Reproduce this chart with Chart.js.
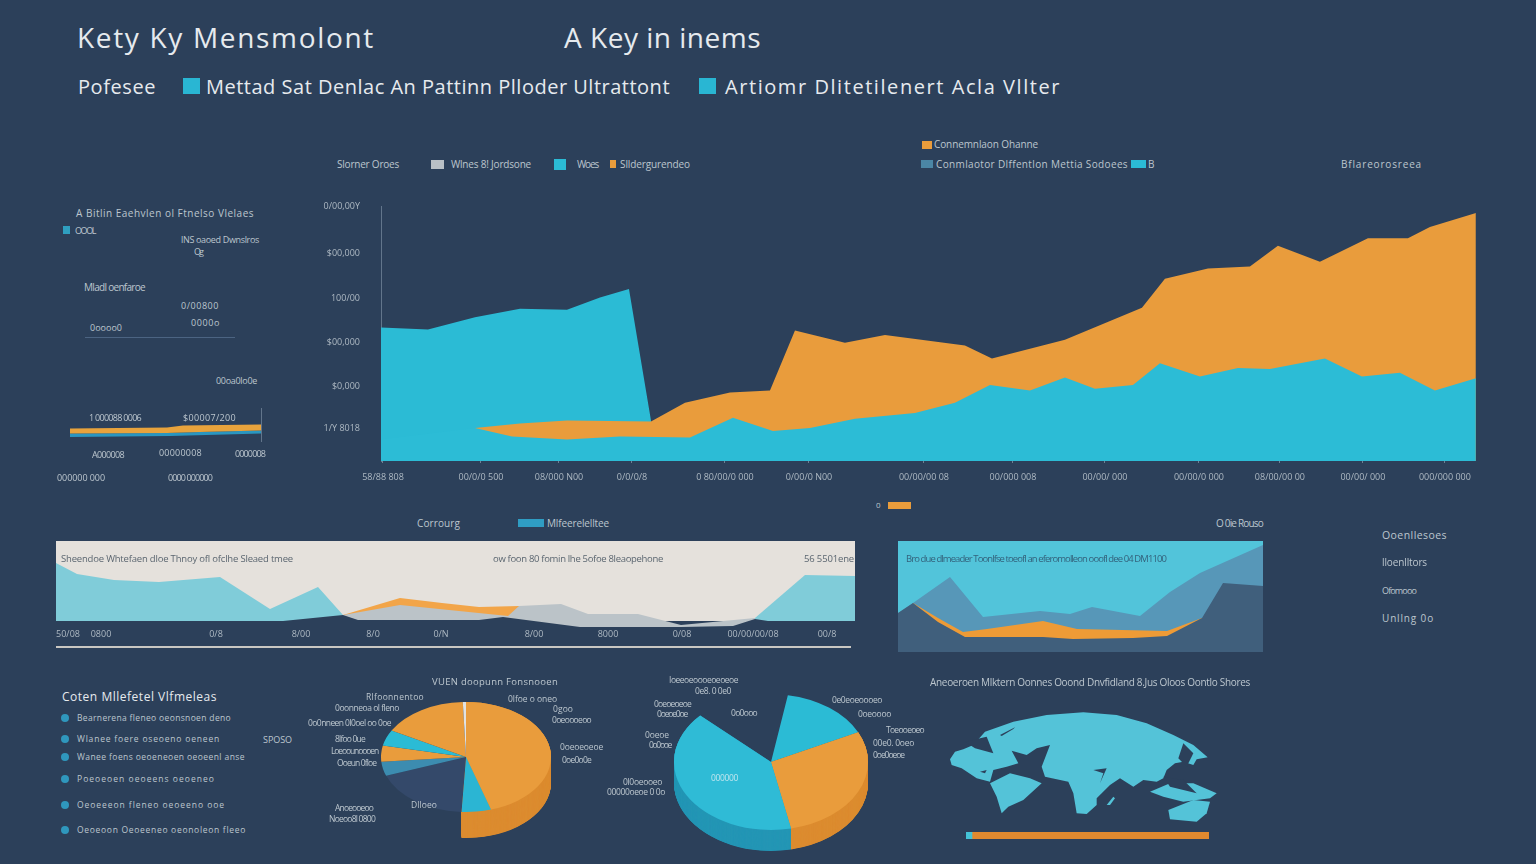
<!DOCTYPE html>
<html><head><meta charset="utf-8">
<script src="https://cdn.jsdelivr.net/npm/chart.js@4"></script>
<style>
html,body{margin:0;padding:0;background:#2c405a;width:1536px;height:864px;overflow:hidden}
canvas{position:absolute;display:block}
.t{position:absolute;white-space:nowrap;transform:translateY(-50%);font-family:"Open Sans",sans-serif;color:#bcc6ce;line-height:1}
.s{position:absolute}
</style></head><body>
<script>
// ---------- main area chart ----------
const mainUpperCyan=[[0,142],[47,140],[94,153],[139,162],[186,161],[219,174],[248,183],[270,43]];
const mainOrange=[[94,35],[139,40],[186,43],[270,42],[304,62],[349,73],[389,75],[414,139],[464,126],[504,134],[584,123],[611,109],[684,129],[761,163],[784,194],[827,205],[869,207],[897,229],[939,212],[987,237],[1027,237],[1049,249],[1095,264]];
const mainLowerCyan=[[0,23],[94,35],[131,26],[186,23],[239,26],[309,25],[352,46],[392,32],[429,35],[474,45],[534,51],[574,62],[609,81],[649,75],[684,89],[714,77],[752,81],[779,104],[819,90],[857,99],[889,98],[944,109],[981,90],[1019,94],[1054,75],[1095,88]];
const mainXTicks=[2,100,178,251,344,428,543,632,724,818,899,982,1064];
const mainXLabels=["58/88 808","00/0/0 500","08/000 N00","0/0/0/8","0 80/00/0 000","0/00/0 N00","00/00/00 08","00/000 008","00/00/ 000","00/00/0 000","08/00/00 00","00/00/ 000","000/000 000"];
const mainYTicks=[35,79,126,173,221,271];
const mainYLabels=["1/Y 8018","$0,000","$00,000","100/00","$00,000","0/00,00Y"];
// ---------- lower wide chart ----------
const wideCream=[[0,88],[799,88]];
const wideCyanLeft=[[0,66],[21,55],[58,49],[103,47],[164,52],[214,20],[262,42],[287,14]];
const wideCyanRight=[[699,11],[749,54],[799,53]];
const wideOrange=[[287,14],[344,31],[386,26],[423,22],[463,23]];
const wideGrey=[[287,14],[344,24],[452,13],[463,23],[505,25],[532,15],[582,15],[625,4],[699,11]];
const wideFloor=[[227,8],[287,14],[302,9],[423,9],[447,12],[524,2],[625,2],[677,3],[699,10],[712,8]];
const wideXTicks=[12,45,160,245,317,385,478,552,626,697,771];
const wideXLabels=["50/08","0800","0/8","8/00","8/0","0/N","8/00","8000","0/08","00/00/00/08","00/8"];
// ---------- lower right chart ----------
const rightBright=[[0,111],[365,111]];
const rightMid=[[0,39],[15,49],[52,75],[85,35],[142,41],[172,38],[194,45],[242,36],[272,60],[302,79],[365,107]];
const rightOrange=[[15,49],[40,34],[65,20],[89,23],[145,31],[179,23],[269,21],[304,34]];
const rightDark=[[0,39],[15,49],[40,30],[67,15],[145,15],[175,13],[235,14],[269,16],[304,34],[325,69],[365,66]];
// ---------- small left chart ----------
const smallOrangeTop=[[0,13.5],[97,14.5],[113,16.5],[191,17.5]];
const smallBlueTop=[[0,8.5],[97,9],[130,10],[191,11.5]];
const smallBlueBottom=[[0,5],[100,6],[191,8.5]];
// ---------- pies ----------
const pieAValues=[45.3,5.6,18.6,4.2,4.7,4.7,16.4,0.6];
const pieBValues=[15,28.9,40.3,15.8];
// ---------- map ----------
const mapLand=[[60,268],[75,245],[100,238],[130,225],[165,185],[250,155],[350,135],[460,127],[560,135],[650,160],[730,195],[790,225],[833,262],[800,268],[790,285],[760,275],[735,280],[710,300],[700,325],[680,335],[640,330],[610,350],[570,325],[540,345],[500,385],[500,405],[470,432],[440,430],[430,370],[415,335],[345,320],[335,290],[360,225],[320,235],[290,255],[245,242],[265,280],[230,290],[190,300],[180,335],[140,325],[95,295],[65,285]];
const mapSouth=[[180,340],[240,310],[300,325],[335,340],[280,390],[235,410],[215,430],[200,380]];
const mapAustralia=[[715,420],[790,390],[840,395],[830,430],[800,455],[720,448]];
const mapIslands=[[660,365],[720,340],[790,340],[860,370],[840,385],[760,395],[700,380]];
const mapMadagascar=[[530,405],[550,380],[555,385],[540,405]];
const mapInletA=[[105,215],[170,200],[190,250],[135,235]];
const mapInletB=[[210,195],[255,172],[250,177],[215,198]];
const mapInletC=[[490,300],[530,295],[510,340],[520,310]];
const mapInletD=[[760,220],[790,250],[770,290],[745,265]];
const mapInletE=[[700,320],[760,330],[800,370],[720,350]];
const mapInletF=[[150,305],[170,300],[165,310]];
const mapBarCyan=[6];
const mapBarOrange=[237];

const BG='#2c405a',CYAN='#2bbbd5',ORANGE='#e99c3c',TICK='#aeb9c3';
Chart.defaults.animation=false;
Chart.defaults.font.family='"Open Sans",sans-serif';
function mk(x,y,w,h){const c=document.createElement('canvas');c.width=w;c.height=h;c.style.left=x+'px';c.style.top=y+'px';document.body.appendChild(c);return c;}
function area(data,color,fill){return{data,backgroundColor:color,borderWidth:0,pointRadius:0,tension:0,fill:fill===undefined?'origin':fill};}
const base={responsive:false,maintainAspectRatio:false,plugins:{legend:{display:false},tooltip:{enabled:false}},layout:{padding:0}};
function opts(o){return Object.assign({},base,o);}
function hid(min,max,rev){return{type:'linear',display:false,min,max,reverse:!!rev};}
function tickAxis(vals,labs,extra){return Object.assign({type:'linear',afterBuildTicks:a=>{a.ticks=vals.map(v=>({value:v}));},
  ticks:{autoSkip:false,maxRotation:0,minRotation:0,color:TICK,font:{size:9},callback:v=>labs[vals.indexOf(v)]}},extra);}

// main
{const m=tickAxis(mainXTicks,mainXLabels,{min:0,max:1095,afterFit:s=>{s.height=29;},border:{display:false},
   grid:{drawOnChartArea:false,drawTicks:true,tickLength:2,color:'#6f8296'}});
 m.ticks.padding=9;
 const y=tickAxis(mainYTicks,mainYLabels,{min:0,max:271,afterFit:s=>{s.width=81;},border:{display:true,color:'#62758b',width:1},grid:{drawOnChartArea:false,drawTicks:false}});
 y.ticks.padding=21;
 new Chart(mk(300,180,1180,310),{type:'line',data:{datasets:[area(mainLowerCyan,'#2cbcd6'),area(mainOrange,ORANGE),area(mainUpperCyan,CYAN)]},
  options:opts({layout:{padding:{top:10,right:4}},scales:{x:m,y}})});}
// wide
{const m=tickAxis(wideXTicks,wideXLabels,{min:0,max:799,afterFit:s=>{s.height=17;},border:{display:false},grid:{display:false,drawTicks:false}});
 m.ticks.padding=0;
 new Chart(mk(56,541,799,105),{type:'line',data:{datasets:[area(wideFloor,BG),area(wideGrey,'#bbc3c8'),area(wideOrange,'#f2a549'),
   area(wideCyanRight,'#80ccd9',{value:8}),area(wideCyanLeft,'#80ccd9',{value:8}),area(wideCream,'#e5e1dc',{value:8})]},
  options:opts({scales:{x:m,y:hid(0,88)}})});}
// right
new Chart(mk(898,541,365,111),{type:'line',data:{datasets:[area(rightDark,'#405f7c'),area(rightOrange,'#ee9b36'),area(rightMid,'#5797b8'),area(rightBright,'#52c4da')]},
  options:opts({scales:{x:hid(0,365),y:hid(0,111)}})});
// small
new Chart(mk(70,408,192,34),{type:'line',data:{datasets:[area(smallOrangeTop,'#e8a33c','+1'),area(smallBlueTop,'#2a96c0','+1'),area(smallBlueBottom,'rgba(0,0,0,0)',false)]},
  options:opts({scales:{x:hid(0,191),y:{type:'linear',position:'right',min:0,max:34,afterFit:s=>{s.width=1;},ticks:{display:false},grid:{display:false},border:{display:true,color:'#62758b'}}}})});

// pies
const pie3d={id:'pie3d',
 beforeDatasetsDraw(chart,_,o){const arcs=chart.getDatasetMeta(0).data,ctx=chart.ctx,cx=arcs[0].x,cy=arcs[0].y;
  ctx.save();ctx.translate(cx,cy);ctx.scale(1,o.squash);ctx.translate(-cx,-cy);
  for(let d=o.depth/o.squash;d>0;d-=0.5){arcs.forEach((a,i)=>{const c=o.sides[i];if(!c)return;
    const keep=a.options;a.options=Object.create(keep,{backgroundColor:{value:c},borderWidth:{value:0}});
    ctx.save();ctx.translate(0,d);a.draw(ctx);ctx.restore();a.options=keep;});}
 },
 afterDatasetsDraw(chart){chart.ctx.restore();}};
const OD='#dc8c30',CD='#2496b5';
new Chart(mk(381,672,170,170),{type:'pie',plugins:[pie3d],data:{labels:pieAValues.map((_,i)=>'s'+i),datasets:[{data:pieAValues,clip:false,borderWidth:0,
  backgroundColor:[ORANGE,'#2bb5d3','#34496a','#3c8cb0',ORANGE,'#2bbbd5',ORANGE,'#e2e2e0']}]},
  options:opts({plugins:{legend:{display:false},tooltip:{enabled:false},pie3d:{squash:0.647,depth:26,sides:[OD,OD,null,null,null,null,null,null]}}})});
new Chart(mk(674,665,194,194),{type:'pie',plugins:[pie3d],data:{labels:pieBValues.map((_,i)=>'s'+i),datasets:[{data:pieBValues,clip:false,borderWidth:0,rotation:10,
  backgroundColor:[CYAN,ORANGE,'#2fbbd6','rgba(0,0,0,0)']}]},
  options:opts({plugins:{legend:{display:false},tooltip:{enabled:false},pie3d:{squash:0.70,depth:21,sides:[null,OD,CD,null]}}})});

// map
const LAND='#54c3d8';
new Chart(mk(930,670,330,180),{type:'line',data:{datasets:[mapInletF,mapInletE,mapInletD,mapInletC,mapInletB,mapInletA].map(d=>area(d,BG,'shape'))
  .concat([mapMadagascar,mapIslands,mapAustralia,mapSouth,mapLand].map(d=>area(d,LAND,'shape')))},
  options:opts({scales:{x:hid(0,990),y:hid(0,540,true)}})});
new Chart(mk(966,832,243,7),{type:'bar',data:{labels:[''],datasets:[
  {data:mapBarCyan,backgroundColor:'#44c2d6',barPercentage:1,categoryPercentage:1},
  {data:mapBarOrange,backgroundColor:'#e0892f',barPercentage:1,categoryPercentage:1}]},
  options:opts({indexAxis:'y',scales:{x:{type:'linear',display:false,stacked:true,min:0,max:243},y:{display:false,stacked:true}}})});

// text
const measure=document.createElement('canvas').getContext('2d');
function T(s,x,y,size,w,color){const e=document.createElement('div');e.className='t';e.textContent=s;e.style.left=x+'px';e.style.top=y+'px';e.style.fontSize=size+'px';
 if(color)e.style.color=color;measure.font=size+'px "Open Sans",sans-serif';const n=measure.measureText(s).width;e.style.letterSpacing=((w-n)/s.length).toFixed(3)+'px';document.body.appendChild(e);}
function S(x,y,w,h,c,r){const e=document.createElement('div');e.className='s';e.style.cssText=`left:${x}px;top:${y}px;width:${w}px;height:${h}px;background:${c};border-radius:${r||0}px`;document.body.appendChild(e);}
const W='#e6eaee',D='#5b6670';
T("Kety Ky Mensmolont",77,37,28,298,W);T("A Key in inems",564,37,28,197,W);
T("Pofesee",78,87,20,78,W);S(183,78,17,16,'#29b6d3');T("Mettad Sat Denlac An Pattinn Plloder Ultrattont",206,87,20,464,W);
S(699,78,17,16,'#29b6d3');T("Artiomr Dlitetilenert Acla Vllter",725,87,20,336,W);
S(922,141,10,8,ORANGE);T("Connemnlaon Ohanne",934,144,10,104);
T("Slorner Oroes",337,164,10,62);S(431,160,13,9,'#b9c0c6');T("Wlnes 8! Jordsone",451,164,10,80);S(554,159,12,11,CYAN);T("Woes",577,164,10,21);
S(610,160,6,8,ORANGE);T("Slldergurendeo",620,164,10,70);S(921,160,12,8,'#4b86a5');T("Conmlaotor Dlffentlon Mettia Sodoees",936,164,10,192);S(1131,160,15,8,CYAN);T("B",1148,164,10,5);T("Bflareorosreea",1341,164,10,81);
T("A Bitlin Eaehvlen ol Ftnelso Vlelaes",76,213,10,178);S(63,226,7,8,'#2f9fc0');T("OOOL",75,230,9,20);T("lNS oaoed Dwnslros",181,239,9,78);T("Og",194,251,9,8);
T("Mladl oenfaroe",84,287,10,61);T("0/00800",181,305,9,38);T("0oooo0",90,327,9,32);T("0000o",191,322,9,29);S(85,337,150,1,'#4c6482');T("00oa0lo0e",216,380,9,41);
T("1 000088 0006",89,417,9,52);T("$00007/200",183,417,9,53);T("A000008",92,454,9,32);T("00000008",159,452,9,43);T("0000008",235,453,9,30);T("000000 000",57,477,9,48);T("0000 000000",168,477,9,44);
T("0",876,505,8,5);S(888,502,23,7,ORANGE);
T("Corrourg",417,523,10,43);S(518,519,26,8,'#2f9dc3');T("Mlfeerelelltee",547,523,10,62);T("O 0ie Rouso",1216,523,10,47);
T("Sheendoe Whtefaen dloe Thnoy ofl ofclhe Sleaed tmee",61,559,9.5,232,D);T("ow foon 80 fomin lhe 5ofoe 8leaopehone",493,559,9.5,170,D);T("56 5501ene",804,559,9.5,50,D);
T("Bro due dlmeader Toonlfse toeofl an eferomolleon ooofl dee 04 DM1100",906,559,9.5,260,'#33627c');
S(56,646,795,1.5,'#c9c7c2');
T("Ooenllesoes",1382,535,10.5,65);T("lloenlltors",1382,562,10,45);T("Ofomooo",1382,590,9,34);T("Unllng 0o",1382,618,10,52);
T("Coten Mllefetel Vlfmeleas",62,697,12,155,W);
[[718,154,"Bearnerena fleneo oeonsnoen deno"],[739,143,"Wlanee foere oseoeno oeneen"],[757,168,"Wanee foens oeoeneoen oeoeenl anse"],[779,138,"Poeoeoen oeoeens oeoeneo"],[805,148,"Oeoeeeon fleneo oeoeeno ooe"],[830,169,"Oeoeoon Oeoeeneo oeonoleon fleeo"]].forEach(r=>{S(61,r[0]-4,8,8,'#2f97bd',4);T(r[2],77,r[0],8.5,r[1]);});
T("SPOSO",263,739,9,29);
T("VUEN doopunn Fonsnooen",432,682,9.5,126);
[["Rlfoonnentoo",366,697,58],["0oonneoa ol fleno",335,708,64],["0o0nneen 0l0oel oo 0oe",308,723,83],["8lfoo 0ue",335,739,30],["Loeoounoooen",331,751,47],["Ooeun 0floe",337,763,39],["0lfoe o oneo",508,699,49],["0goo",553,709,20],["0oeoooeoo",552,720,39],["0oeoeoeoe",560,747,43],["0oe0o0e",562,760,29],["Dlloeo",411,805,26],["Anoeooeoo",335,808,38],["Noeoo8l 0800",329,819,46],
 ["Ioeeoeoooeoeoeoe",669,680,69],["0e8. 0 0e0",695,691,36],["0oeoeoeoe",654,704,37],["0oeoe0oe",657,714,30],["0o0ooo",731,713,26],["0oeoe",645,735,24],["0o0ooe",649,745,22],["0l0oeooeo",623,782,39],["00000oeoe 0 0o",607,792,58],["0e0eoeoooeo",832,700,50],["0oeoooo",858,714,33],["Toeooeoeo",886,730,38],["00e0. 0oeo",873,743,41],["0oe0oeoe",873,755,31]].forEach(r=>T(r[0],r[1],r[2],8.5,r[3]));
T("000000",711,778,8.5,27,'#bfe6ee');
T("Aneoeroen Mlktern Oonnes Ooond Dnvfidland 8.Jus Oloos Oontlo Shores",930,682,10,320);
</script>
</body></html>
